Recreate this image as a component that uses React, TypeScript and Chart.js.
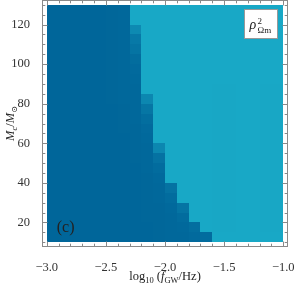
import React, { useEffect, useRef } from "react";
import { Chart, registerables } from "chart.js";

Chart.register(...registerables);

// log10(f_GW/Hz) cell centres (width 0.1)
const colCenters = [
  -2.95, -2.85, -2.75, -2.65, -2.55, -2.45, -2.35, -2.25, -2.15, -2.05,
  -1.95, -1.85, -1.75, -1.65, -1.55, -1.45, -1.35, -1.25, -1.15, -1.05,
];
// M_c/M_sun cell centres (height 5), top row first
const rowCenters = [
  127.5, 122.5, 117.5, 112.5, 107.5, 102.5, 97.5, 92.5, 87.5, 82.5, 77.5, 72.5,
  67.5, 62.5, 57.5, 52.5, 47.5, 42.5, 37.5, 32.5, 27.5, 22.5, 17.5, 12.5,
];
// rho^2 (normalised colour value 0 = dark, 1 = light), rows follow rowCenters
const cellValues = [
  [0.02, 0.02, 0.02, 0.02, 0.02, 0.03, 0.05, 1, 1, 1, 1, 1, 1, 1, 1, 1, 1, 1, 1, 1],
  [0.02, 0.02, 0.02, 0.02, 0.02, 0.03, 0.05, 1, 1, 1, 1, 1, 1, 1, 1, 1, 1, 1, 1, 1],
  [0.02, 0.02, 0.02, 0.02, 0.02, 0.03, 0.05, 0.55, 1, 1, 1, 1, 1, 1, 1, 1, 1, 1, 1, 1],
  [0.02, 0.02, 0.02, 0.02, 0.02, 0.03, 0.05, 0.3, 1, 1, 1, 1, 1, 1, 1, 1, 1, 1, 1, 1],
  [0.02, 0.02, 0.02, 0.02, 0.02, 0.03, 0.05, 0.22, 1, 1, 1, 1, 1, 1, 1, 1, 1, 1, 1, 1],
  [0.02, 0.02, 0.02, 0.02, 0.02, 0.03, 0.05, 0.12, 1, 1, 1, 1, 1, 1, 1, 1, 1, 1, 1, 1],
  [0.02, 0.02, 0.02, 0.02, 0.02, 0.03, 0.04, 0.08, 1, 1, 1, 1, 1, 1, 1, 1, 1, 1, 1, 1],
  [0.02, 0.02, 0.02, 0.02, 0.02, 0.03, 0.04, 0.06, 1, 1, 1, 1, 1, 1, 1, 1, 1, 1, 1, 1],
  [0.02, 0.02, 0.02, 0.02, 0.02, 0.03, 0.04, 0.05, 1, 1, 1, 1, 1, 1, 0.98, 0.98, 1, 1, 0.98, 0.98],
  [0.02, 0.02, 0.02, 0.02, 0.02, 0.03, 0.04, 0.05, 0.5, 1, 1, 1, 1, 1, 0.98, 0.98, 1, 1, 0.98, 0.98],
  [0.02, 0.02, 0.02, 0.02, 0.02, 0.02, 0.03, 0.04, 0.25, 1, 1, 1, 1, 1, 0.98, 0.98, 1, 1, 0.98, 0.98],
  [0.02, 0.02, 0.02, 0.02, 0.02, 0.02, 0.03, 0.04, 0.14, 1, 1, 1, 1, 1, 0.98, 0.98, 1, 1, 0.98, 0.98],
  [0.02, 0.02, 0.02, 0.02, 0.02, 0.02, 0.03, 0.03, 0.08, 1, 1, 1, 1, 1, 0.98, 0.98, 1, 1, 0.98, 0.98],
  [0.02, 0.02, 0.02, 0.02, 0.02, 0.02, 0.02, 0.03, 0.06, 1, 1, 1, 1, 1, 0.98, 0.98, 1, 1, 0.98, 0.98],
  [0.02, 0.02, 0.02, 0.02, 0.02, 0.02, 0.02, 0.03, 0.05, 0.5, 1, 1, 1, 1, 0.98, 0.98, 1, 1, 0.98, 0.98],
  [0.02, 0.02, 0.02, 0.02, 0.02, 0.02, 0.02, 0.03, 0.04, 0.2, 1, 1, 1, 1, 0.98, 0.98, 1, 1, 0.98, 0.98],
  [0.02, 0.02, 0.02, 0.02, 0.02, 0.02, 0.02, 0.02, 0.04, 0.1, 1, 1, 1, 1, 0.98, 0.98, 1, 1, 0.98, 0.98],
  [0.02, 0.02, 0.02, 0.02, 0.02, 0.02, 0.02, 0.02, 0.03, 0.06, 1, 1, 1, 1, 0.98, 0.98, 1, 1, 0.98, 0.98],
  [0.02, 0.02, 0.02, 0.02, 0.02, 0.02, 0.02, 0.02, 0.03, 0.04, 0.2, 1, 1, 1, 0.98, 0.98, 1, 1, 0.98, 0.98],
  [0.02, 0.02, 0.02, 0.02, 0.02, 0.02, 0.02, 0.02, 0.03, 0.04, 0.1, 1, 1, 1, 0.98, 0.98, 1, 1, 0.98, 0.98],
  [0.02, 0.02, 0.02, 0.02, 0.02, 0.02, 0.02, 0.02, 0.03, 0.03, 0.06, 0.22, 1, 1, 0.98, 0.98, 1, 1, 0.98, 0.98],
  [0.02, 0.02, 0.02, 0.02, 0.02, 0.02, 0.02, 0.02, 0.03, 0.03, 0.05, 0.1, 1, 1, 0.98, 0.98, 1, 1, 0.98, 0.98],
  [0.02, 0.02, 0.02, 0.02, 0.02, 0.02, 0.02, 0.02, 0.02, 0.03, 0.04, 0.06, 0.14, 1, 0.98, 0.98, 1, 1, 0.98, 0.98],
  [0.02, 0.02, 0.02, 0.02, 0.02, 0.02, 0.02, 0.02, 0.02, 0.03, 0.04, 0.05, 0.08, 0.1, 1, 1, 1, 1, 1, 1],
];

const xTickValues = [-3.0, -2.5, -2.0, -1.5, -1.0];
const yTickValues = [20, 40, 60, 80, 100, 120];

const CELL_W = 0.1;
const CELL_H = 5;
const DARK = [0, 101, 153];
const LIGHT = [24, 168, 198];
const SERIF = "'Liberation Serif', 'DejaVu Serif', serif";

function colorFor(t: number) {
  const c = DARK.map((d, i) => Math.round(d + (LIGHT[i] - d) * t));
  return `rgb(${c[0]},${c[1]},${c[2]})`;
}

type Seg = { t: string; size: number; italic?: boolean; dy?: number };
function drawRich(ctx: CanvasRenderingContext2D, segs: Seg[], cx: number, baseline: number) {
  let w = 0;
  const widths: number[] = [];
  for (const s of segs) {
    ctx.font = `${s.italic ? "italic " : ""}${s.size}px ${SERIF}`;
    const m = ctx.measureText(s.t).width;
    widths.push(m);
    w += m;
  }
  let x = cx - w / 2;
  ctx.textAlign = "left";
  ctx.textBaseline = "alphabetic";
  segs.forEach((s, i) => {
    ctx.font = `${s.italic ? "italic " : ""}${s.size}px ${SERIF}`;
    ctx.fillText(s.t, x, baseline + (s.dy || 0));
    x += widths[i];
  });
}

const heatmapPlugin = {
  id: "heatmapCells",
  beforeDatasetsDraw(chart: any) {
    const { ctx, scales } = chart;
    const xs = scales.x;
    const ys = scales.y;
    const data = chart.data.datasets[0].data as any[];
    ctx.save();
    for (const p of data) {
      const x0 = Math.round(xs.getPixelForValue(p.x - CELL_W / 2));
      const x1 = Math.round(xs.getPixelForValue(p.x + CELL_W / 2));
      const y0 = Math.round(ys.getPixelForValue(p.y + CELL_H / 2));
      const y1 = Math.round(ys.getPixelForValue(p.y - CELL_H / 2));
      ctx.fillStyle = colorFor(p.v);
      ctx.fillRect(x0, y0, x1 - x0, y1 - y0);
    }
    ctx.restore();
  },
};

const framePlugin = {
  id: "frameTicks",
  afterDraw(chart: any) {
    const { ctx, chartArea, scales } = chart;
    const xs = scales.x;
    const ys = scales.y;
    const L = Math.round(chartArea.left) + 0.5;
    const R = Math.round(chartArea.right) - 0.5;
    const T = Math.round(chartArea.top) + 0.5;
    const B = Math.round(chartArea.bottom) - 0.5;
    ctx.save();
    ctx.strokeStyle = "#8a8a8a";
    ctx.lineWidth = 1;
    ctx.strokeRect(L, T, R - L, B - T);
    ctx.beginPath();
    for (let i = 0; i <= 20; i++) {
      const v = -3 + i * 0.1;
      const len = i % 5 === 0 ? 5 : 2.8;
      const px = Math.round(xs.getPixelForValue(v)) + 0.5;
      ctx.moveTo(px, B);
      ctx.lineTo(px, B - len);
      ctx.moveTo(px, T);
      ctx.lineTo(px, T + len);
    }
    for (let i = 0; i <= 24; i++) {
      const v = 10 + i * 5;
      const len = v % 20 === 0 ? 5 : 2.8;
      const py = Math.round(ys.getPixelForValue(v)) + 0.5;
      ctx.moveTo(L, py);
      ctx.lineTo(L + len, py);
      ctx.moveTo(R, py);
      ctx.lineTo(R - len, py);
    }
    ctx.stroke();
    ctx.restore();

    ctx.save();
    ctx.fillStyle = "#222";
    const cx = (xs.getPixelForValue(-3) + xs.getPixelForValue(-1)) / 2;
    drawRich(ctx, [
      { t: "log", size: 12.5 },
      { t: "10", size: 8.5, dy: 3 },
      { t: " (", size: 12.5 },
      { t: "f", size: 12.5, italic: true },
      { t: "GW", size: 8.5, dy: 3 },
      { t: "/Hz)", size: 12.5 },
    ], cx, chart.height - 7);

    const cy = (ys.getPixelForValue(10) + ys.getPixelForValue(130)) / 2;
    ctx.save();
    ctx.translate(14, cy);
    ctx.rotate(-Math.PI / 2);
    drawRich(ctx, [
      { t: "M", size: 12.5, italic: true },
      { t: "c", size: 8.5, italic: true, dy: 3 },
      { t: "/", size: 12.5 },
      { t: "M", size: 12.5, italic: true },
      { t: "⊙", size: 8, dy: 3 },
    ], 0, 0);
    ctx.restore();

    ctx.font = `16px ${SERIF}`;
    ctx.textAlign = "center";
    ctx.textBaseline = "alphabetic";
    ctx.fillText("(c)", xs.getPixelForValue(-2.84), ys.getPixelForValue(17.5) + 5);

    const bx = Math.round(chartArea.right) - 44 + 0.5;
    const by = Math.round(chartArea.top) + 9 + 0.5;
    ctx.fillStyle = "#fff";
    ctx.fillRect(bx, by, 33, 29);
    ctx.strokeStyle = "#999";
    ctx.strokeRect(bx, by, 33, 29);
    ctx.fillStyle = "#222";
    ctx.font = `italic 14px ${SERIF}`;
    ctx.textAlign = "left";
    ctx.fillText("ρ", bx + 5, by + 19);
    ctx.font = `9px ${SERIF}`;
    ctx.fillText("2", bx + 13, by + 14);
    ctx.fillText("Ωm", bx + 13, by + 23);
    ctx.restore();
  },
};

function fmt(v: number) {
  const s = Math.abs(v).toFixed(1);
  return v < 0 ? "\u2212" + s : s;
}

export default function App() {
  const ref = useRef<HTMLCanvasElement | null>(null);
  useEffect(() => {
    if (!ref.current) return;
    const points: { x: number; y: number; v: number }[] = [];
    rowCenters.forEach((yc, r) => {
      colCenters.forEach((xc, c) => {
        points.push({ x: xc, y: yc, v: cellValues[r][c] });
      });
    });
    const chart = new Chart(ref.current, {
      type: "scatter",
      data: {
        datasets: [
          {
            label: "rho2",
            data: points as any,
            pointRadius: 0,
            pointHoverRadius: 0,
          },
        ],
      },
      options: {
        responsive: false,
        animation: false,
        events: [],
        layout: { padding: { top: 0, right: 9, left: 0, bottom: 0 } },
        plugins: { legend: { display: false }, tooltip: { enabled: false } },
        scales: {
          x: {
            type: "linear",
            min: -3.04,
            max: -0.96,
            grid: { display: false },
            border: { display: false },
            ticks: {
              color: "#333",
              font: { family: SERIF, size: 12.5 },
              padding: 5,
              maxRotation: 0,
              autoSkip: false,
              callback: (v: any) => fmt(Number(v)),
            },
            afterBuildTicks: (s: any) => {
              s.ticks = xTickValues.map((value) => ({ value }));
            },
            afterFit: (s: any) => {
              s.height = 40;
              s.paddingLeft = 0;
              s.paddingRight = 0;
              s.paddingTop = 0;
              s.paddingBottom = 0;
            },
          },
          y: {
            type: "linear",
            min: 7.6,
            max: 132.4,
            grid: { display: false },
            border: { display: false },
            ticks: {
              color: "#333",
              font: { family: SERIF, size: 12.5 },
              padding: 4,
              autoSkip: false,
              callback: (v: any) => String(v),
            },
            afterBuildTicks: (s: any) => {
              s.ticks = yTickValues.map((value) => ({ value }));
            },
            afterFit: (s: any) => {
              s.width = 42;
              s.paddingTop = 0;
              s.paddingBottom = 0;
              s.paddingLeft = 0;
              s.paddingRight = 0;
            },
          },
        },
      },
      plugins: [heatmapPlugin, framePlugin],
    });
    return () => chart.destroy();
  }, []);
  return (
    <div style={{ position: "absolute", left: 0, top: 0, width: 297, height: 287, background: "#fff" }}>
      <canvas ref={ref} width={297} height={287} />
    </div>
  );
}
